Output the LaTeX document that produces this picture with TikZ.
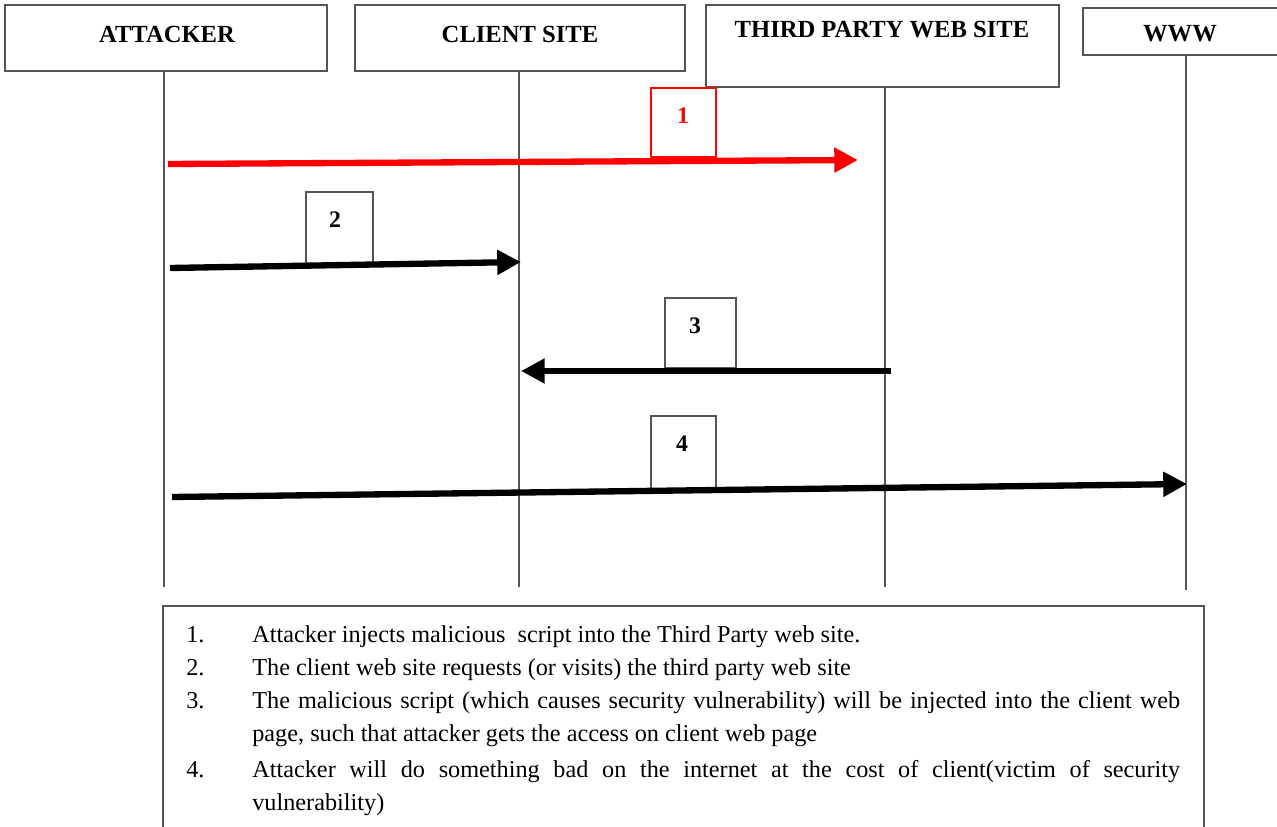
\documentclass[tikz,border=0pt]{standalone}
\usepackage{fontspec}
\setmainfont{Liberation Serif}
\usetikzlibrary{arrows.meta}
\definecolor{edge}{HTML}{555555}
\definecolor{redarrow}{HTML}{FF0000}
\tikzset{
  px/.style={x=0.02cm,y=-0.02cm},
  header/.style={draw=edge,line width=0.8pt,fill=white,inner sep=0pt},
  headtext/.style={inner sep=0pt,font=\fontsize{14}{16}\selectfont\bfseries},
  lifeline/.style={draw=edge,line width=0.7pt},
  numbox/.style={draw=edge,line width=0.7pt,fill=white,inner sep=0pt},
  numtext/.style={inner sep=0pt,font=\fontsize{13.5}{15}\selectfont\bfseries},
  msg/.style={line width=3.6pt,-{Triangle[length=13.5pt,width=13.5pt]}},
  itemnum/.style={anchor=base west,inner sep=0pt,font=\fontsize{13.8}{19.3}\selectfont},
  itemtext/.style={anchor=base west,inner sep=0pt,text width=18.56cm,align=justify,font=\fontsize{13.8}{19.3}\selectfont}
}
\begin{document}
\begin{tikzpicture}[px]
\useasboundingbox (0,0) rectangle (1277,827);
% header boxes
\node[header,minimum width=6.44cm,minimum height=1.32cm] (att) at (166,38) {};
\node[header,minimum width=6.60cm,minimum height=1.32cm] (cli) at (520,38) {};
\node[header,minimum width=7.06cm,minimum height=1.64cm] (thp) at (882.5,46) {};
\node[header,minimum width=3.90cm,minimum height=0.94cm] (www) at (1180.5,31.5) {};
\node[headtext] (atttxt) at (167,34) {ATTACKER};
\node[headtext] (clitxt) at (520,34) {CLIENT SITE};
\node[headtext] (thptxt) at (882,30) {THIRD PARTY WEB SITE};
\node[headtext] (wwwtxt) at (1180,34) {WWW};
% lifeline ends
\coordinate (attE) at (164,587);
\coordinate (cliE) at (519,587);
\coordinate (thpE) at (885,587);
\coordinate (wwwE) at (1186,590);
\draw[lifeline] (att.south -| attE) -- (attE);
\draw[lifeline] (cli.south -| cliE) -- (cliE);
\draw[lifeline] (thp.south -| thpE) -- (thpE);
\draw[lifeline] (www.south -| wwwE) -- (wwwE);
% label boxes
\node[numbox,draw=redarrow,minimum width=1.30cm,minimum height=1.38cm] (b1) at (683.5,122.5) {};
\node[numtext,text=redarrow] (t1) at (683,116) {1};
\node[numbox,minimum width=1.34cm,minimum height=1.44cm] (b2) at (339.5,228) {};
\node[numtext] (t2) at (335,220) {2};
\node[numbox,minimum width=1.42cm,minimum height=1.40cm] (b3) at (700.5,333) {};
\node[numtext] (t3) at (695,326) {3};
\node[numbox,minimum width=1.30cm,minimum height=1.46cm] (b4) at (683.5,452.5) {};
\node[numtext] (t4) at (682,444) {4};
% message arrows
\coordinate (m1s) at (168,164);
\coordinate (m1e) at (858,160);
\coordinate (m2s) at (170,268);
\coordinate (m2e) at (521,262);
\coordinate (m3s) at (891,371);
\coordinate (m3e) at (521,371);
\coordinate (m4s) at (172,497);
\coordinate (m4e) at (1187,484);
\draw[msg,redarrow] (m1s) -- (m1e);
\draw[msg] (m2s) -- (m2e);
\draw[msg] (m3s) -- (m3e);
\draw[msg] (m4s) -- (m4e);
% legend box
\coordinate (lgA) at (163,830);
\coordinate (lgB) at (163,606);
\coordinate (lgC) at (1204,606);
\coordinate (lgD) at (1204,830);
\draw[draw=edge,line width=1pt] (lgA) -- (lgB) -- (lgC) -- (lgD);
\node[itemnum] (n1) at (186,642) {1.};
\node[itemtext] (i1) at (252,642) {Attacker injects malicious\ \ script into the Third Party web site.};
\node[itemnum] (n2) at (186,675) {2.};
\node[itemtext] (i2) at (252,675) {The client web site requests (or visits) the third party web site};
\node[itemnum] (n3) at (186,708) {3.};
\node[itemtext] (i3) at (252,708) {The malicious script (which causes security vulnerability) will be injected into the client web\linebreak page, such that attacker gets the access on client web page};
\node[itemnum] (n4) at (186,777) {4.};
\node[itemtext] (i4) at (252,777) {Attacker will do something bad on the internet at the cost of client(victim of security\linebreak vulnerability)};
\end{tikzpicture}
\end{document}
